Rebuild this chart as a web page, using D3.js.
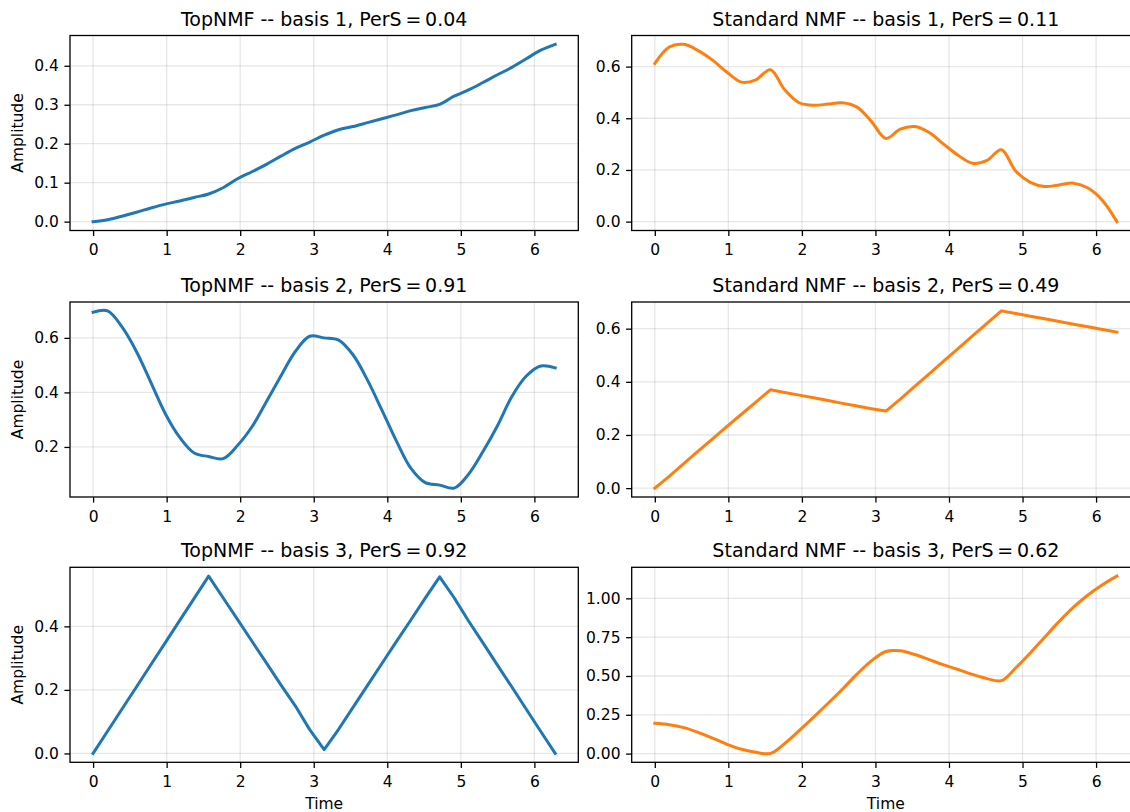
<!DOCTYPE html>
<html>
<head>
<meta charset="utf-8">
<title>TopNMF vs Standard NMF bases</title>
<script src="https://d3js.org/d3.v7.min.js"></script>
<style>
  body { margin: 0; background: #fff; }
  svg text { font-family: "DejaVu Sans", sans-serif; fill: #000; }
</style>
</head>
<body>
<script>
// time samples, k*pi/16 from 0 to 2*pi
var time = [0, 0.196, 0.393, 0.589, 0.785, 0.982, 1.178, 1.374, 1.571, 1.767, 1.963,
            2.160, 2.356, 2.553, 2.749, 2.945, 3.142, 3.338, 3.534, 3.731, 3.927, 4.123,
            4.320, 4.516, 4.712, 4.909, 5.105, 5.301, 5.498, 5.694, 5.890, 6.087, 6.283];

// TopNMF bases (left column)
var topBasis1 = [0.000, 0.005, 0.014, 0.024, 0.035, 0.045, 0.053, 0.062, 0.071, 0.087, 0.110,
                 0.128, 0.147, 0.168, 0.188, 0.204, 0.222, 0.236, 0.244, 0.254, 0.264, 0.274,
                 0.285, 0.293, 0.301, 0.322, 0.338, 0.357, 0.377, 0.396, 0.418, 0.440, 0.455];
var topBasis2 = [0.694, 0.699, 0.640, 0.550, 0.437, 0.322, 0.235, 0.178, 0.165, 0.157, 0.205,
                 0.274, 0.366, 0.460, 0.550, 0.606, 0.600, 0.592, 0.538, 0.445, 0.335, 0.222,
                 0.122, 0.069, 0.060, 0.049, 0.100, 0.183, 0.278, 0.385, 0.460, 0.497, 0.490];
var topBasis3 = [0.000, 0.070, 0.140, 0.209, 0.279, 0.349, 0.419, 0.488, 0.558, 0.490, 0.422,
                 0.353, 0.285, 0.216, 0.150, 0.075, 0.012, 0.076, 0.145, 0.214, 0.283, 0.352,
                 0.420, 0.489, 0.556, 0.490, 0.417, 0.348, 0.278, 0.209, 0.139, 0.069, 0.000];

// Standard NMF bases (right column)
var stdBasis1 = [0.612, 0.676, 0.686, 0.662, 0.625, 0.578, 0.540, 0.549, 0.588, 0.510, 0.460,
                 0.450, 0.455, 0.460, 0.443, 0.388, 0.322, 0.358, 0.368, 0.345, 0.300, 0.257,
                 0.226, 0.237, 0.278, 0.195, 0.152, 0.136, 0.142, 0.149, 0.130, 0.082, 0.000];
var stdBasis2 = [0.000, 0.044, 0.092, 0.139, 0.185, 0.232, 0.278, 0.324, 0.370, 0.360, 0.350,
                 0.340, 0.330, 0.319, 0.309, 0.299, 0.290, 0.335, 0.383, 0.430, 0.478, 0.525,
                 0.573, 0.620, 0.667, 0.657, 0.647, 0.637, 0.627, 0.617, 0.607, 0.597, 0.587];
var stdBasis3 = [0.195, 0.186, 0.167, 0.137, 0.100, 0.060, 0.028, 0.008, 0.001, 0.065, 0.148,
                 0.235, 0.324, 0.416, 0.512, 0.597, 0.658, 0.662, 0.638, 0.605, 0.572, 0.542,
                 0.510, 0.483, 0.470, 0.553, 0.648, 0.750, 0.852, 0.944, 1.022, 1.088, 1.143];

var titles = ["TopNMF -- basis 1, PerS\u2009=\u20090.04", "Standard NMF -- basis 1, PerS\u2009=\u20090.11",
              "TopNMF -- basis 2, PerS\u2009=\u20090.91", "Standard NMF -- basis 2, PerS\u2009=\u20090.49",
              "TopNMF -- basis 3, PerS\u2009=\u20090.92", "Standard NMF -- basis 3, PerS\u2009=\u20090.62"];

var xTicks = [0, 1, 2, 3, 4, 5, 6];
var yTicksTop1 = [0.0, 0.1, 0.2, 0.3, 0.4];
var yTicksStd1 = [0.0, 0.2, 0.4, 0.6];
var yTicksTop2 = [0.2, 0.4, 0.6];
var yTicksStd2 = [0.0, 0.2, 0.4, 0.6];
var yTicksTop3 = [0.0, 0.2, 0.4];
var yTicksStd3 = [0.00, 0.25, 0.50, 0.75, 1.00];

var blue = "#1f77b4", orange = "#ff7f0e";

var panels = [
  {values: topBasis1, ticks: yTicksTop1, fmt: ".1f", color: blue,   curve: d3.curveCatmullRom, row: 0, col: 0},
  {values: stdBasis1, ticks: yTicksStd1, fmt: ".1f", color: orange, curve: d3.curveCatmullRom, row: 0, col: 1},
  {values: topBasis2, ticks: yTicksTop2, fmt: ".1f", color: blue,   curve: d3.curveCatmullRom, row: 1, col: 0},
  {values: stdBasis2, ticks: yTicksStd2, fmt: ".1f", color: orange, curve: d3.curveLinear,     row: 1, col: 1},
  {values: topBasis3, ticks: yTicksTop3, fmt: ".1f", color: blue,   curve: d3.curveLinear,     row: 2, col: 0},
  {values: stdBasis3, ticks: yTicksStd3, fmt: ".2f", color: orange, curve: d3.curveCatmullRom, row: 2, col: 1}
];

// figure layout
var width = 1130, height = 812;
var colLeft = [70, 631.7];
var rowTop = [35.5, 302, 567.3];
var plotW = 508.3, plotH = 195;
var tickFont = 15.5, titleFont = 19;

var svg = d3.select("body").append("svg")
  .attr("width", width)
  .attr("height", height)
  .style("display", "block");

svg.append("rect").attr("width", width).attr("height", height).attr("fill", "#fff");

// matplotlib style 5% margins around the data
function padded(ext) {
  var m = (ext[1] - ext[0]) * 0.05;
  return [ext[0] - m, ext[1] + m];
}

panels.forEach(function(p, i) {
  var g = svg.append("g")
    .attr("transform", "translate(" + colLeft[p.col] + "," + rowTop[p.row] + ")");

  var x = d3.scaleLinear().domain(padded(d3.extent(time))).range([0, plotW]);
  var y = d3.scaleLinear().domain(padded(d3.extent(p.values))).range([plotH, 0]);

  // grid
  g.append("g").selectAll("line").data(xTicks).enter().append("line")
    .attr("x1", function(d) { return x(d); }).attr("x2", function(d) { return x(d); })
    .attr("y1", 0).attr("y2", plotH)
    .attr("stroke", "#b0b0b0").attr("stroke-opacity", 0.3).attr("stroke-width", 1.3);
  g.append("g").selectAll("line").data(p.ticks).enter().append("line")
    .attr("x1", 0).attr("x2", plotW)
    .attr("y1", function(d) { return y(d); }).attr("y2", function(d) { return y(d); })
    .attr("stroke", "#b0b0b0").attr("stroke-opacity", 0.3).attr("stroke-width", 1.3);

  // the basis curve
  var line = d3.line()
    .x(function(d, j) { return x(time[j]); })
    .y(function(d) { return y(d); })
    .curve(p.curve);

  g.append("path")
    .datum(p.values)
    .attr("d", line)
    .attr("fill", "none")
    .attr("stroke", p.color)
    .attr("stroke-width", 3)
    .attr("stroke-linejoin", "round")
    .attr("stroke-linecap", "square");

  // axes
  var xAxis = g.append("g")
    .attr("transform", "translate(0," + plotH + ")")
    .call(d3.axisBottom(x).tickValues(xTicks).tickFormat(d3.format("d"))
      .tickSize(5.6).tickSizeOuter(0).tickPadding(8));
  var yAxis = g.append("g")
    .call(d3.axisLeft(y).tickValues(p.ticks).tickFormat(d3.format(p.fmt))
      .tickSize(5.6).tickSizeOuter(0).tickPadding(5.6));

  [xAxis, yAxis].forEach(function(a) {
    a.select(".domain").remove();
    a.selectAll(".tick line").attr("stroke", "#000").attr("stroke-width", 1.3);
    a.selectAll(".tick text").attr("font-size", tickFont)
      .attr("font-family", "DejaVu Sans").attr("fill", "#000");
  });

  // spines
  g.append("rect")
    .attr("width", plotW).attr("height", plotH)
    .attr("fill", "none").attr("stroke", "#000").attr("stroke-width", 1.3);

  // title
  g.append("text")
    .attr("x", plotW / 2).attr("y", -10)
    .attr("text-anchor", "middle")
    .attr("font-size", titleFont)
    .text(titles[i]);

  if (p.col == 0) {
    g.append("text")
      .attr("transform", "translate(" + (17.6 - colLeft[0]) + "," + (plotH / 2) + ") rotate(-90)")
      .attr("text-anchor", "middle")
      .attr("dy", "0.35em")
      .attr("font-size", tickFont)
      .text("Amplitude");
  }
  if (p.row == 2) {
    g.append("text")
      .attr("x", plotW / 2).attr("y", 803.3 - rowTop[2])
      .attr("text-anchor", "middle")
      .attr("dy", "0.35em")
      .attr("font-size", tickFont)
      .text("Time");
  }
});
</script>
</body>
</html>
